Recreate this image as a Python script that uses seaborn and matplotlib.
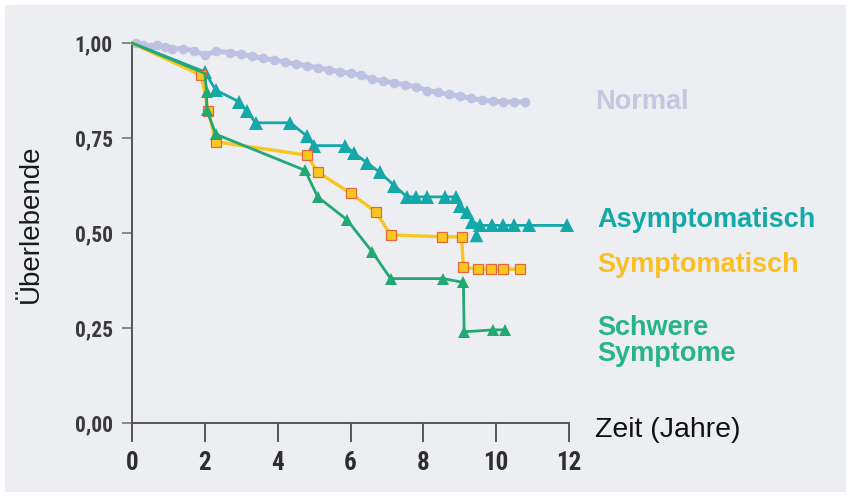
import numpy as np
import pandas as pd
import matplotlib
matplotlib.use("Agg")
import matplotlib.pyplot as plt
from matplotlib.patches import Rectangle
import seaborn as sns

# Kaplan-Meier-Kurven, Werte
normal_t = [0.1, 0.3, 0.5, 0.7, 0.9, 1.1, 1.4, 1.7, 2.0, 2.3, 2.7, 3.0, 3.3, 3.6,
            3.9, 4.2, 4.5, 4.8, 5.1, 5.4, 5.7, 6.0, 6.3, 6.6, 6.9, 7.2, 7.5, 7.8,
            8.1, 8.4, 8.7, 9.0, 9.3, 9.6, 9.9, 10.2, 10.5, 10.8]
normal_s = [1.0, 0.995, 0.99, 0.995, 0.99, 0.985, 0.985, 0.98, 0.968, 0.978, 0.975,
            0.97, 0.965, 0.96, 0.955, 0.95, 0.945, 0.94, 0.935, 0.93, 0.925, 0.92,
            0.915, 0.905, 0.9, 0.895, 0.89, 0.885, 0.875, 0.87, 0.865, 0.86, 0.855,
            0.85, 0.847, 0.845, 0.845, 0.845]

asym_t = [0.0, 2.0, 2.3, 2.95, 3.15, 3.4, 4.35, 4.8, 5.0, 5.85, 6.1, 6.45, 6.8,
          7.2, 7.55, 7.8, 8.1, 8.6, 8.9, 9.0, 9.2, 9.35, 9.56, 9.89, 10.2, 10.5,
          10.9, 11.95]
asym_s = [1.0, 0.924, 0.876, 0.845, 0.82, 0.79, 0.79, 0.755, 0.73, 0.73, 0.71,
          0.685, 0.66, 0.625, 0.595, 0.595, 0.595, 0.595, 0.595, 0.57, 0.555, 0.53,
          0.52, 0.52, 0.52, 0.52, 0.52, 0.52]
asym_extra_t = [9.45]
asym_extra_s = [0.495]

sym_t = [0.0, 1.9, 2.1, 2.3, 4.8, 5.1, 6.0, 6.7, 7.1, 8.5, 9.05, 9.1, 9.5, 9.85,
         10.2, 10.65]
sym_s = [1.0, 0.915, 0.82, 0.74, 0.705, 0.66, 0.605, 0.555, 0.495, 0.49, 0.49,
         0.41, 0.405, 0.405, 0.405, 0.405]

sev_t = [0.0, 2.0, 2.05, 2.05, 2.3, 4.75, 5.1, 5.9, 6.6, 7.1, 8.55, 9.1, 9.12,
         9.9, 10.25]
sev_s = [1.0, 0.92, 0.87, 0.825, 0.76, 0.665, 0.595, 0.535, 0.45, 0.38, 0.38,
         0.37, 0.24, 0.245, 0.245]

x_ticks = [0, 2, 4, 6, 8, 10, 12]
y_ticks = [0.0, 0.25, 0.5, 0.75, 1.0]
y_ticklabels = ["0,00", "0,25", "0,50", "0,75", "1,00"]

c_normal = "#BFC1E2"
c_asym = "#14A8A8"
c_sym = "#F8C71E"
c_sym_edge = "#E2683A"
c_sev = "#22A872"
bg = "#ECEEF1"

sns.set_theme(style="white")
plt.rcParams["font.family"] = ["Liberation Sans", "DejaVu Sans"]
tick_font = ["Roboto Condensed", "Liberation Sans Narrow", "Liberation Sans"]

fig = plt.figure(figsize=(8.51, 4.97), dpi=100, facecolor="white")
fig.patches.append(Rectangle((5 / 851, 5 / 497), 841 / 851, 487 / 497,
                             transform=fig.transFigure, facecolor=bg,
                             edgecolor="none", zorder=-10))
ax = fig.add_axes([132 / 851, 74 / 497, 437 / 851, 380 / 497])
ax.set_facecolor(bg)

sns.lineplot(x=normal_t, y=normal_s, ax=ax, color=c_normal, lw=3.5,
             marker="o", markersize=7, markeredgewidth=0,
             estimator=None, sort=False, clip_on=False, zorder=2)
sns.lineplot(x=asym_t, y=asym_s, ax=ax, color=c_asym, lw=2,
             marker="^", markersize=10, markeredgewidth=0,
             markevery=list(range(1, len(asym_t))),
             estimator=None, sort=False, clip_on=False, zorder=3)
sns.scatterplot(x=asym_extra_t, y=asym_extra_s, ax=ax, color=c_asym,
                marker="^", s=95, linewidth=0, zorder=3)
sns.lineplot(x=sym_t, y=sym_s, ax=ax, color=c_sym, lw=2.4,
             marker="s", markersize=7, markerfacecolor=c_sym,
             markeredgecolor=c_sym_edge, markeredgewidth=0.9,
             markevery=list(range(1, len(sym_t))),
             estimator=None, sort=False, clip_on=False, zorder=4)
sns.lineplot(x=sev_t, y=sev_s, ax=ax, color=c_sev, lw=2,
             marker="^", markersize=9, markeredgewidth=0,
             markevery=list(range(2, len(sev_t))),
             estimator=None, sort=False, clip_on=False, zorder=5)

ax.set_xlim(0, 12)
ax.set_ylim(0, 1)
sns.despine(ax=ax)
for side in ["left", "bottom"]:
    ax.spines[side].set_color("#555555")
    ax.spines[side].set_linewidth(1.4)

ax.set_xticks(x_ticks)
ax.set_xticklabels([str(v) for v in x_ticks], fontsize=18, fontweight="bold",
                   color="#2e2e2e", family=tick_font)
ax.set_yticks(y_ticks)
ax.set_yticklabels(y_ticklabels, fontsize=15.5, fontweight="bold",
                   color="#3a3a3a", family=tick_font)
ax.tick_params(axis="x", direction="out", length=13.5, width=1.4,
               color="#555555", pad=7, bottom=True)
ax.tick_params(axis="y", direction="out", length=7, width=1.4,
               color="#888888", pad=7, left=True)
ax.set_xlabel("")
ax.set_ylabel("")

fig.text(31 / 851, 1 - 224 / 497, "Überlebende", rotation=90, fontsize=20,
         color="#1a1a1a", ha="center", va="center")
fig.text(595 / 851, 1 - 430 / 497, "Zeit (Jahre)", fontsize=20.5,
         color="#111111", ha="left", va="center")
fig.text(595 / 851, 1 - 102 / 497, "Normal", fontsize=19.5, fontweight="bold",
         color="#C6C6E0", ha="left", va="center")
fig.text(597 / 851, 1 - 220 / 497, "Asymptomatisch", fontsize=19.5,
         fontweight="bold", color=c_asym, ha="left", va="center")
fig.text(597 / 851, 1 - 265 / 497, "Symptomatisch", fontsize=19.5,
         fontweight="bold", color="#FBBF22", ha="left", va="center")
fig.text(597 / 851, 1 - 341 / 497, "Schwere\nSymptome", fontsize=19.5,
         fontweight="bold", color="#27B487", ha="left", va="center",
         linespacing=1.0)

fig.savefig("out.png", dpi=100, facecolor="white")
